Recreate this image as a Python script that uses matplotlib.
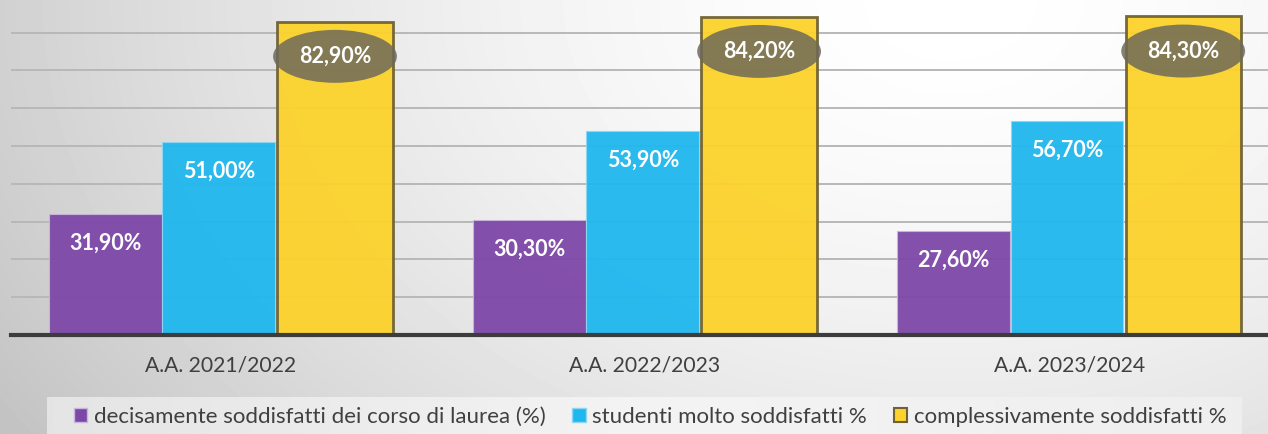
import numpy as np
import matplotlib.pyplot as plt
from matplotlib.patches import Patch, Ellipse

plt.rcParams['font.family'] = ['Lato', 'DejaVu Sans']

anni = ['A.A. 2021/2022', 'A.A. 2022/2023', 'A.A. 2023/2024']
decisamente = [31.9, 30.3, 27.6]
molto = [51.0, 53.9, 56.7]
complessivamente = [82.9, 84.2, 84.3]
serie_nomi = ['decisamente soddisfatti dei corso di laurea (%)',
              'studenti molto soddisfatti %',
              'complessivamente soddisfatti %']

viola = '#7d47a8'
azzurro = '#1fb7ee'
giallo = '#fcd22b'

W, H = 1268, 434
fig = plt.figure(figsize=(W / 100, H / 100), dpi=100)

# sfondo sfumato
bg = fig.add_axes([0, 0, 1, 1], zorder=-10)
yy, xx = np.mgrid[0:H, 0:W]
d = np.sqrt(((xx - 950) / 1000.0) ** 2 + (yy / 700.0) ** 2)
sfondo = 255 - 50 * np.clip(d, 0, 1.3) ** 1.6
bg.imshow(sfondo, cmap='gray', vmin=0, vmax=255, aspect='auto', extent=(0, W, H, 0))
leg_bg = np.tile(np.concatenate([np.linspace(228, 243, 300), np.linspace(243, 238, 300)]), (2, 1))
bg.imshow(leg_bg, cmap='gray', vmin=0, vmax=255, aspect='auto', extent=(47, 1242, 434, 397))
bg.set_xlim(0, W)
bg.set_ylim(H, 0)
bg.axis('off')

ax = fig.add_axes([11 / W, (H - 335) / H, (W - 11) / W, 335 / H])
ax.set_facecolor('none')

x = np.arange(len(anni))
b1 = ax.bar(x - 0.272, decisamente, width=0.266, color=viola, alpha=0.95,
            edgecolor='#c9b6da', linewidth=0.8, zorder=3)
b2 = ax.bar(x - 0.005, molto, width=0.266, color=azzurro, alpha=0.95,
            edgecolor='#8fd6f3', linewidth=0.8, zorder=3)
b3 = ax.bar(x + 0.269, complessivamente, width=0.272, color=giallo, alpha=0.95,
            edgecolor='#6e6234', linewidth=2.0, zorder=3)

for bars, vals in [(b1, decisamente), (b2, molto)]:
    for rect, v in zip(bars, vals):
        ax.annotate(f'{v:.2f}%'.replace('.', ','),
                    xy=(rect.get_x() + rect.get_width() / 2, v),
                    xytext=(0, -21), textcoords='offset points',
                    ha='center', va='center', color='white',
                    fontsize=15.5, fontweight='bold', zorder=5)

# etichette ovali sulle barre gialle
for rect, v in zip(b3, complessivamente):
    cx = rect.get_x() + rect.get_width() / 2
    cy = v - 9.2
    ax.add_patch(Ellipse((cx, cy), 0.292, 14.0, facecolor='#6e6a5a', edgecolor='none',
                         alpha=0.85, zorder=5))
    ax.text(cx, cy, f'{v:.2f}%'.replace('.', ','), ha='center', va='center',
            color='white', fontsize=15.5, fontweight='bold', zorder=6)

ax.set_xlim(-0.495, 2.469)
ax.set_ylim(0, 88.6)
ax.set_yticks(np.arange(10, 90, 10))
ax.yaxis.grid(True, color='#b8b8b8', linewidth=1.4, zorder=0)
ax.tick_params(axis='y', left=False, labelleft=False)
ax.set_xticks(x)
ax.set_xticklabels(anni, fontsize=15.2, color='#404040')
ax.tick_params(axis='x', length=0, pad=15)
for s in ['top', 'right', 'left']:
    ax.spines[s].set_visible(False)
ax.spines['bottom'].set_color('#3c3c3c')
ax.spines['bottom'].set_linewidth(3)
ax.spines['bottom'].set_zorder(4)

handles = [Patch(facecolor=viola, edgecolor='#c9b6da'),
           Patch(facecolor=azzurro, edgecolor='#8fd6f3'),
           Patch(facecolor=giallo, edgecolor='#6e6234', linewidth=1.5)]
fig.legend(handles, serie_nomi, loc='center', bbox_to_anchor=(650 / W, 1 - 417 / H),
           ncol=3, frameon=False, fontsize=16, labelcolor='#404040',
           handlelength=0.6, handleheight=0.6, handletextpad=0.3, columnspacing=1.2)

fig.savefig('out.png', dpi=100)
